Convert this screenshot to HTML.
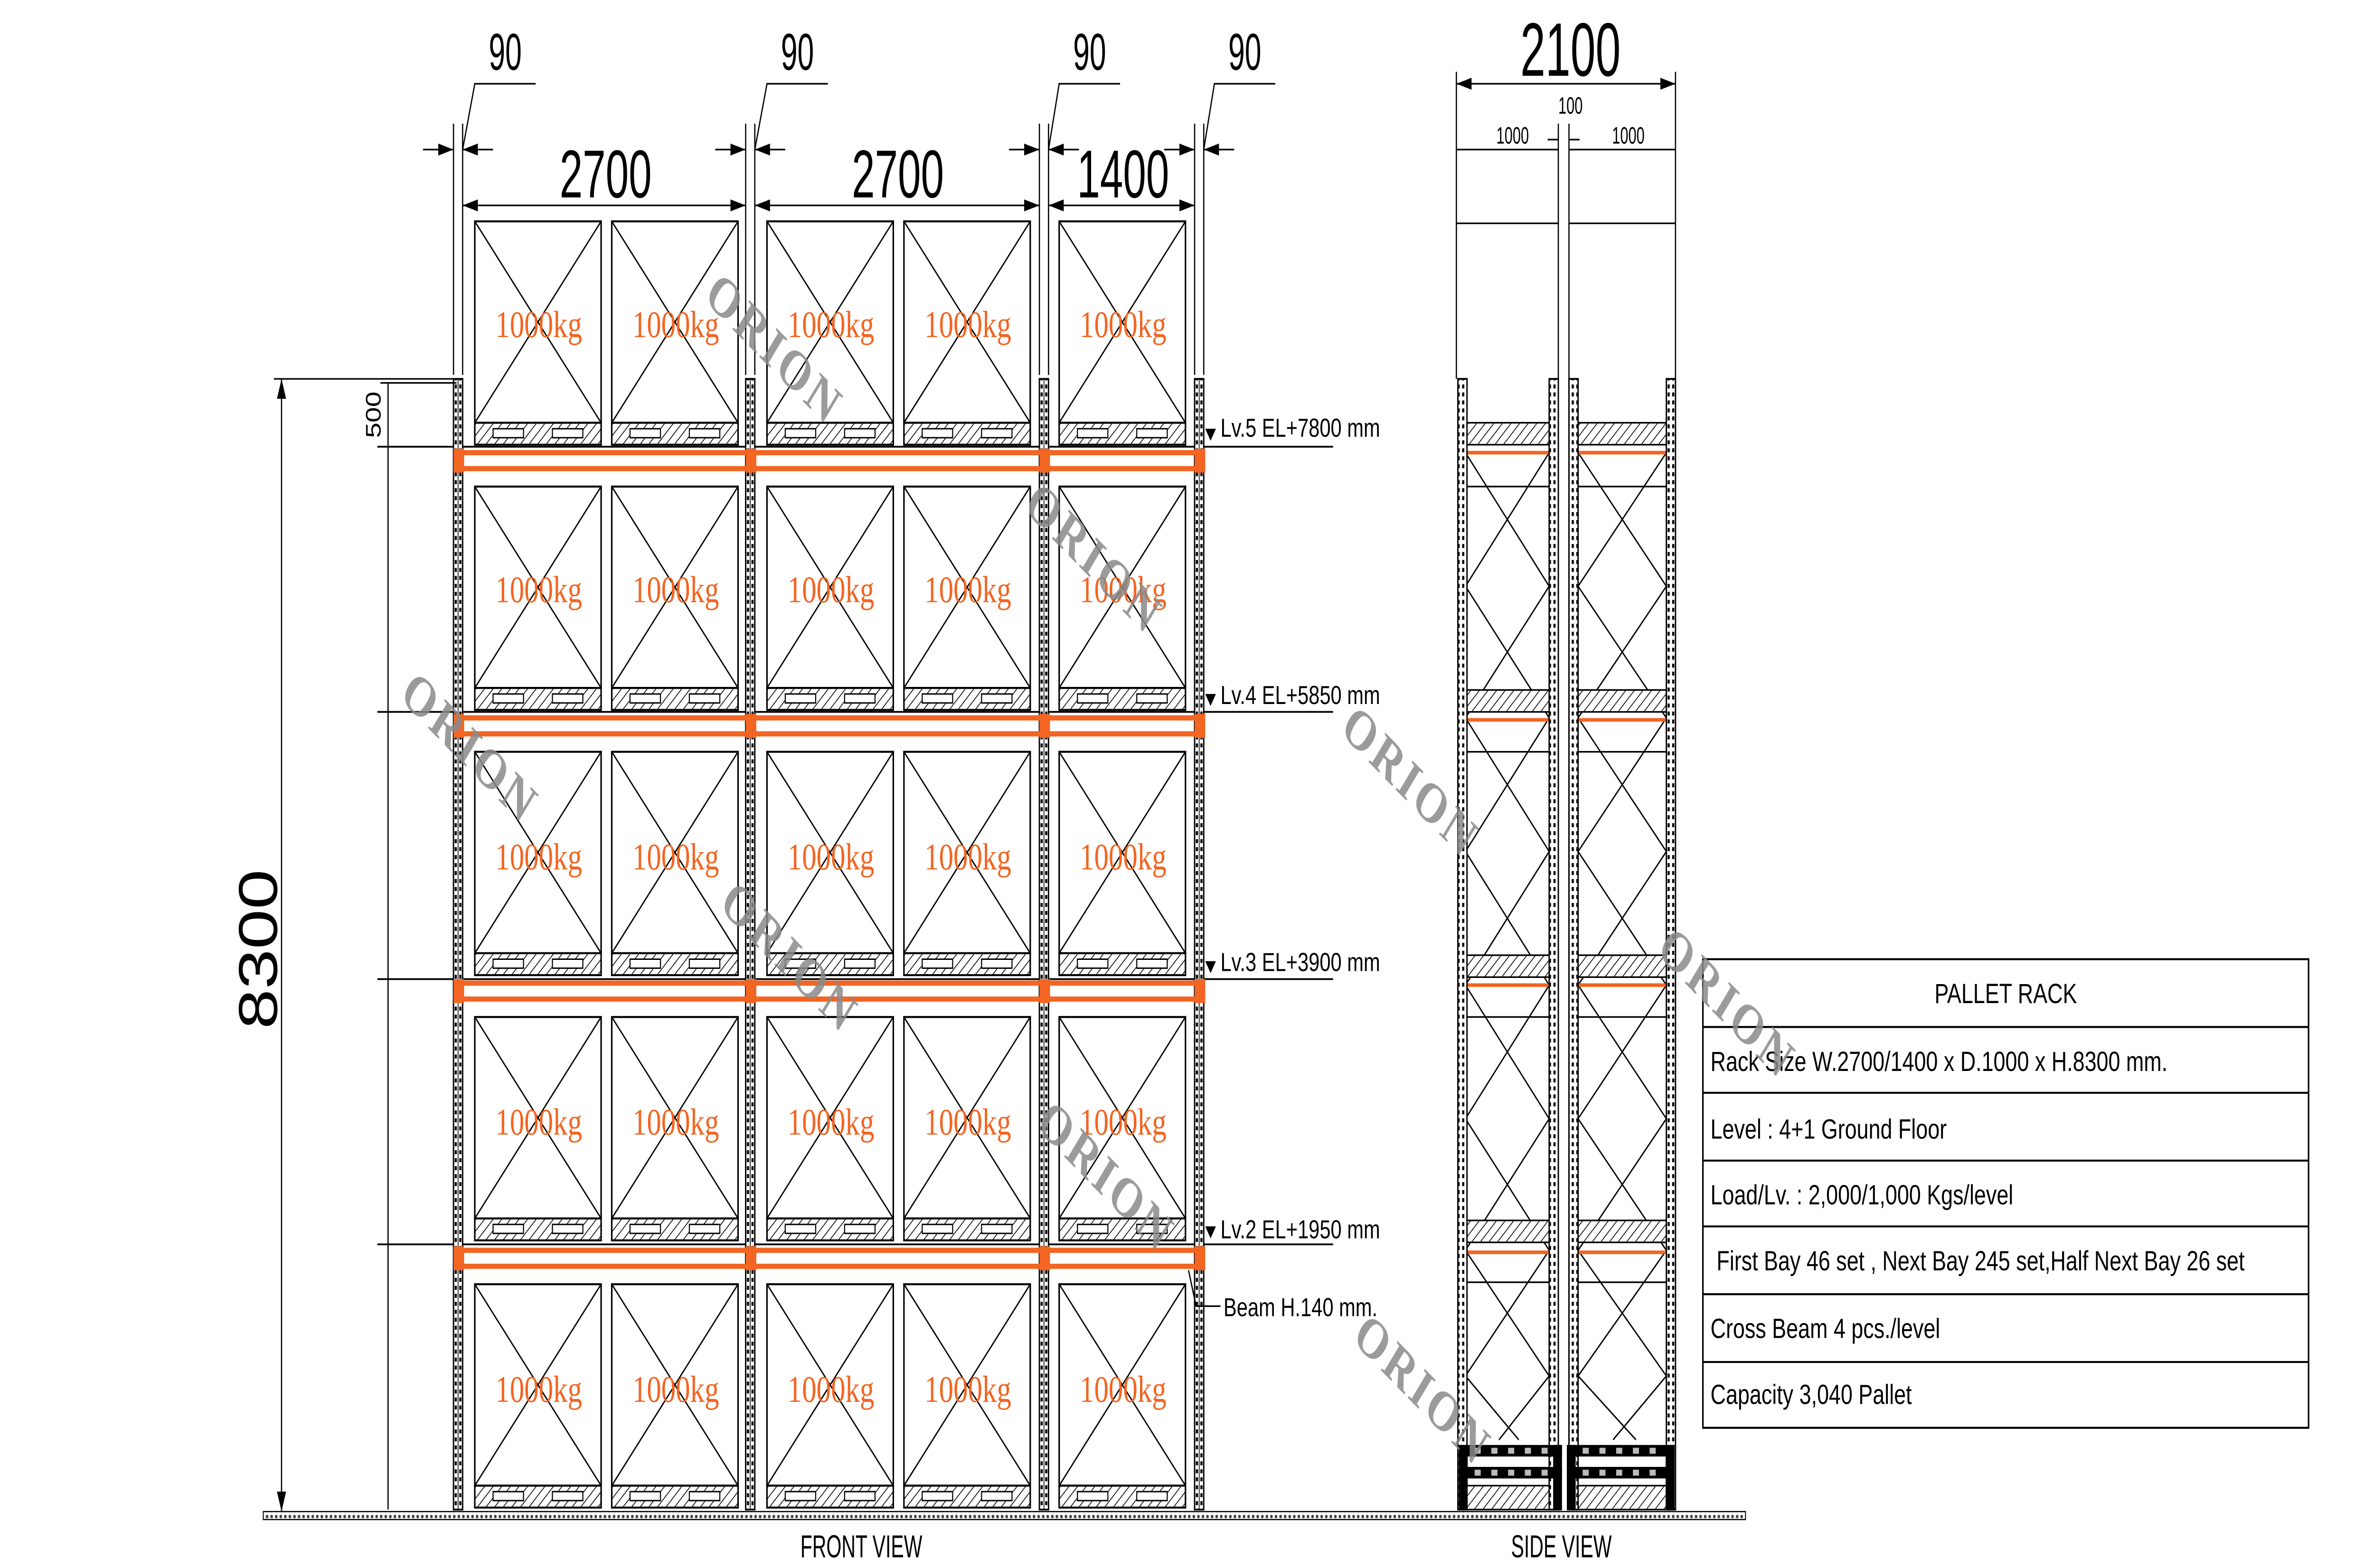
<!DOCTYPE html>
<html><head><meta charset="utf-8"><style>
html,body{margin:0;padding:0;background:#fff;width:100%;height:100%;overflow:hidden}
#s{display:block;position:absolute;left:0;top:0;width:100vw;height:100vh}
</style></head><body>
<svg id="s" xmlns="http://www.w3.org/2000/svg" viewBox="0 0 1560 786.3" preserveAspectRatio="none" font-family="Liberation Sans, sans-serif">
<defs>
<pattern id="hatch" width="4" height="4" patternUnits="userSpaceOnUse" patternTransform="rotate(45)">
<rect width="4" height="4" fill="#fff"/><line x1="0" y1="0" x2="0" y2="4" stroke="#000" stroke-width="0.9"/>
</pattern>
<pattern id="holes" width="6" height="4" patternUnits="userSpaceOnUse">
<rect width="6" height="4" fill="#fff"/><rect x="0.8" y="0.8" width="1.4" height="2" fill="#000"/><rect x="3.8" y="0.8" width="1.4" height="2" fill="#000"/>
</pattern>
<pattern id="ground" width="3" height="3" patternUnits="userSpaceOnUse">
<rect width="3" height="3" fill="#fff"/><circle cx="1.5" cy="1.5" r="0.9" fill="#444"/>
</pattern>
<marker id="ar" viewBox="0 0 10 6" refX="10" refY="3" markerWidth="10" markerHeight="6" markerUnits="userSpaceOnUse" orient="auto-start-reverse">
<path d="M0,0 L10,3 L0,6 z" fill="#000"/></marker>
<g id="pal">
<rect x="0" y="0" width="83" height="101" fill="none" stroke="#000" stroke-width="1"/>
<line x1="0" y1="0" x2="83" y2="101" stroke="#000" stroke-width="0.8"/>
<line x1="83" y1="0" x2="0" y2="101" stroke="#000" stroke-width="0.8"/>
<rect x="0" y="101" width="83" height="11" fill="url(#hatch)" stroke="#000" stroke-width="1"/>
<rect x="12" y="104" width="20" height="4.5" fill="#fff" stroke="#000" stroke-width="0.7"/>
<rect x="51" y="104" width="20" height="4.5" fill="#fff" stroke="#000" stroke-width="0.7"/>
</g>
<g id="up">
<rect x="-3" y="190" width="6" height="567" fill="url(#holes)" stroke="#000" stroke-width="0.9"/>
<line x1="0" y1="190" x2="0" y2="757" stroke="#000" stroke-width="0.5"/>
</g>
</defs>

<rect width="1560" height="786.3" fill="#fff"/>

<rect x="173" y="758" width="974" height="4" fill="url(#ground)" stroke="#000" stroke-width="0.6"/>

<g>
<use href="#pal" x="312" y="111"/><use href="#pal" x="402" y="111"/><use href="#pal" x="504" y="111"/><use href="#pal" x="594" y="111"/><use href="#pal" x="696" y="111"/>
<use href="#pal" x="312" y="244"/><use href="#pal" x="402" y="244"/><use href="#pal" x="504" y="244"/><use href="#pal" x="594" y="244"/><use href="#pal" x="696" y="244"/>
<use href="#pal" x="312" y="377"/><use href="#pal" x="402" y="377"/><use href="#pal" x="504" y="377"/><use href="#pal" x="594" y="377"/><use href="#pal" x="696" y="377"/>
<use href="#pal" x="312" y="510"/><use href="#pal" x="402" y="510"/><use href="#pal" x="504" y="510"/><use href="#pal" x="594" y="510"/><use href="#pal" x="696" y="510"/>
<use href="#pal" x="312" y="644"/><use href="#pal" x="402" y="644"/><use href="#pal" x="504" y="644"/><use href="#pal" x="594" y="644"/><use href="#pal" x="696" y="644"/>
</g>

<g stroke="#000" stroke-width="0.9">
<line x1="248" y1="224" x2="876" y2="224"/>
<line x1="248" y1="357" x2="876" y2="357"/>
<line x1="248" y1="491" x2="876" y2="491"/>
<line x1="248" y1="624" x2="876" y2="624"/>
</g>

<use href="#up" x="301"/><use href="#up" x="493"/><use href="#up" x="686"/><use href="#up" x="788"/>

<g stroke="#f26522" stroke-width="2.6" fill="none">
<line x1="301" y1="227" x2="788" y2="227"/><line x1="301" y1="235" x2="788" y2="235"/>
<line x1="301" y1="360" x2="788" y2="360"/><line x1="301" y1="368" x2="788" y2="368"/>
<line x1="301" y1="493" x2="788" y2="493"/><line x1="301" y1="501" x2="788" y2="501"/>
<line x1="301" y1="627" x2="788" y2="627"/><line x1="301" y1="635" x2="788" y2="635"/>
</g>
<g fill="#f26522">
<rect x="298" y="225" width="7" height="12"/><rect x="490" y="225" width="7" height="12"/><rect x="683" y="225" width="7" height="12"/><rect x="785" y="225" width="7" height="12"/>
<rect x="298" y="358" width="7" height="12"/><rect x="490" y="358" width="7" height="12"/><rect x="683" y="358" width="7" height="12"/><rect x="785" y="358" width="7" height="12"/>
<rect x="298" y="491" width="7" height="12"/><rect x="490" y="491" width="7" height="12"/><rect x="683" y="491" width="7" height="12"/><rect x="785" y="491" width="7" height="12"/>
<rect x="298" y="625" width="7" height="12"/><rect x="490" y="625" width="7" height="12"/><rect x="683" y="625" width="7" height="12"/><rect x="785" y="625" width="7" height="12"/>
</g>

<g font-family="Liberation Serif, serif" font-size="19" fill="#f26522" text-anchor="middle">
<text x="354" y="169">1000kg</text><text x="444" y="169">1000kg</text><text x="546" y="169">1000kg</text><text x="636" y="169">1000kg</text><text x="738" y="169">1000kg</text>
<text x="354" y="302">1000kg</text><text x="444" y="302">1000kg</text><text x="546" y="302">1000kg</text><text x="636" y="302">1000kg</text><text x="738" y="302">1000kg</text>
<text x="354" y="436">1000kg</text><text x="444" y="436">1000kg</text><text x="546" y="436">1000kg</text><text x="636" y="436">1000kg</text><text x="738" y="436">1000kg</text>
<text x="354" y="569">1000kg</text><text x="444" y="569">1000kg</text><text x="546" y="569">1000kg</text><text x="636" y="569">1000kg</text><text x="738" y="569">1000kg</text>
<text x="354" y="703">1000kg</text><text x="444" y="703">1000kg</text><text x="546" y="703">1000kg</text><text x="636" y="703">1000kg</text><text x="738" y="703">1000kg</text>
</g>

<g font-size="13" fill="#000">
<text x="802" y="219">Lv.5 EL+7800 mm</text>
<text x="802" y="353">Lv.4 EL+5850 mm</text>
<text x="802" y="487">Lv.3 EL+3900 mm</text>
<text x="802" y="621">Lv.2 EL+1950 mm</text>
<text x="804" y="660">Beam H.140 mm.</text>
</g>
<g fill="#000">
<path d="M792,215 h7 l-3.5,6z"/><path d="M792,348 h7 l-3.5,6z"/><path d="M792,482 h7 l-3.5,6z"/><path d="M792,615 h7 l-3.5,6z"/>
</g>
<polyline points="781,637 786,655 802,655" fill="none" stroke="#000" stroke-width="0.8"/>

<g stroke="#000" stroke-width="0.8" fill="none">
<line x1="298" y1="62" x2="298" y2="188"/><line x1="304" y1="62" x2="304" y2="188"/>
<line x1="490" y1="62" x2="490" y2="188"/><line x1="496" y1="62" x2="496" y2="188"/>
<line x1="683" y1="62" x2="683" y2="188"/><line x1="689" y1="62" x2="689" y2="188"/>
<line x1="785" y1="62" x2="785" y2="188"/><line x1="791" y1="62" x2="791" y2="188"/>
<polyline points="352,42 312,42 304,75"/>
<polyline points="544,42 504,42 496,75"/>
<polyline points="736,42 696,42 689,75"/>
<polyline points="838,42 798,42 791,75"/>
<line x1="278" y1="75" x2="298" y2="75" marker-end="url(#ar)"/><line x1="324" y1="75" x2="304" y2="75" marker-end="url(#ar)"/>
<line x1="470" y1="75" x2="490" y2="75" marker-end="url(#ar)"/><line x1="516" y1="75" x2="496" y2="75" marker-end="url(#ar)"/>
<line x1="663" y1="75" x2="683" y2="75" marker-end="url(#ar)"/><line x1="709" y1="75" x2="689" y2="75" marker-end="url(#ar)"/>
<line x1="765" y1="75" x2="785" y2="75" marker-end="url(#ar)"/><line x1="811" y1="75" x2="791" y2="75" marker-end="url(#ar)"/>
<line x1="304" y1="103" x2="490" y2="103" marker-start="url(#ar)" marker-end="url(#ar)"/>
<line x1="496" y1="103" x2="683" y2="103" marker-start="url(#ar)" marker-end="url(#ar)"/>
<line x1="689" y1="103" x2="785" y2="103" marker-start="url(#ar)" marker-end="url(#ar)"/>
<line x1="180" y1="190" x2="300" y2="190"/>
<line x1="185" y1="190" x2="185" y2="758" marker-start="url(#ar)" marker-end="url(#ar)"/>
<line x1="255" y1="192" x2="255" y2="757"/>
<line x1="250" y1="192" x2="300" y2="192"/>
</g>
<g fill="#000" text-anchor="middle">
<text x="332" y="35" font-size="26" transform="translate(332 35) scale(0.75 1) translate(-332 -35)">90</text>
<text x="524" y="35" font-size="26" transform="translate(524 35) scale(0.75 1) translate(-524 -35)">90</text>
<text x="716" y="35" font-size="26" transform="translate(716 35) scale(0.75 1) translate(-716 -35)">90</text>
<text x="818" y="35" font-size="26" transform="translate(818 35) scale(0.75 1) translate(-818 -35)">90</text>
<text x="398" y="99" font-size="34" transform="translate(398 99) scale(0.8 1) translate(-398 -99)">2700</text>
<text x="590" y="99" font-size="34" transform="translate(590 99) scale(0.8 1) translate(-590 -99)">2700</text>
<text x="738" y="99" font-size="34" transform="translate(738 99) scale(0.8 1) translate(-738 -99)">1400</text>
<text x="0" y="0" font-size="36" transform="translate(182 476) rotate(-90)">8300</text>
<text x="0" y="0" font-size="14" transform="translate(250 208) rotate(-90)">500</text>
<text x="566" y="781" font-size="16" transform="translate(566 781) scale(0.8 1) translate(-566 -781)">FRONT VIEW</text>
<text x="1026" y="781" font-size="16" transform="translate(1026 781) scale(0.8 1) translate(-1026 -781)">SIDE VIEW</text>
</g>

<g stroke="#000" stroke-width="0.8" fill="none">
<line x1="957" y1="36" x2="957" y2="190"/><line x1="1101" y1="36" x2="1101" y2="190"/>
<line x1="957" y1="42" x2="1101" y2="42" marker-start="url(#ar)" marker-end="url(#ar)"/>
<line x1="957" y1="75" x2="1024" y2="75"/><line x1="1031" y1="75" x2="1101" y2="75"/>
<line x1="1017" y1="70" x2="1024" y2="70"/><line x1="1031" y1="70" x2="1038" y2="70"/>
<line x1="1024" y1="62" x2="1024" y2="757"/><line x1="1031" y1="62" x2="1031" y2="757"/>
<line x1="957" y1="112" x2="1024" y2="112"/><line x1="1031" y1="112" x2="1101" y2="112"/>
</g>
<g fill="#000" text-anchor="middle">
<text x="1032" y="38" font-size="38" transform="translate(1032 38) scale(0.78 1) translate(-1032 -38)">2100</text>
<text x="1032" y="57" font-size="12" transform="translate(1032 57) scale(0.8 1) translate(-1032 -57)">100</text>
<text x="994" y="72" font-size="12" transform="translate(994 72) scale(0.8 1) translate(-994 -72)">1000</text>
<text x="1070" y="72" font-size="12" transform="translate(1070 72) scale(0.8 1) translate(-1070 -72)">1000</text>
</g>

<g stroke="#000" stroke-width="0.8" fill="none">
<line x1="963" y1="244" x2="1018" y2="244"/><line x1="1037" y1="244" x2="1095" y2="244"/>
<line x1="963" y1="377" x2="1018" y2="377"/><line x1="1037" y1="377" x2="1095" y2="377"/>
<line x1="963" y1="510" x2="1018" y2="510"/><line x1="1037" y1="510" x2="1095" y2="510"/>
<line x1="963" y1="643" x2="1018" y2="643"/><line x1="1037" y1="643" x2="1095" y2="643"/>
<path d="M963,227 L1018,294 L963,360 M1018,227 L963,294 L1018,360"/>
<path d="M963,360 L1018,427 L963,494 M1018,360 L963,427 L1018,494"/>
<path d="M963,494 L1018,561 L963,627 M1018,494 L963,561 L1018,627"/>
<path d="M963,627 L1018,690 L985,722 M1018,627 L963,690 L998,722"/>
<path d="M1037,227 L1095,294 L1037,360 M1095,227 L1037,294 L1095,360"/>
<path d="M1037,360 L1095,427 L1037,494 M1095,360 L1037,427 L1095,494"/>
<path d="M1037,494 L1095,561 L1037,627 M1095,494 L1037,561 L1095,627"/>
<path d="M1037,627 L1095,690 L1060,722 M1095,627 L1037,690 L1075,722"/>
</g>
<g fill="url(#hatch)" stroke="#000" stroke-width="0.8">
<rect x="963" y="212" width="55" height="11"/><rect x="1037" y="212" width="58" height="11"/>
<rect x="963" y="346" width="55" height="11"/><rect x="1037" y="346" width="58" height="11"/>
<rect x="963" y="479" width="55" height="11"/><rect x="1037" y="479" width="58" height="11"/>
<rect x="963" y="612" width="55" height="11"/><rect x="1037" y="612" width="58" height="11"/>
<rect x="963" y="745" width="55" height="12"/><rect x="1037" y="745" width="58" height="12"/>
</g>
<g stroke="#f26522" stroke-width="1.8">
<line x1="963" y1="227" x2="1018" y2="227"/><line x1="1037" y1="227" x2="1095" y2="227"/>
<line x1="963" y1="361" x2="1018" y2="361"/><line x1="1037" y1="361" x2="1095" y2="361"/>
<line x1="963" y1="494" x2="1018" y2="494"/><line x1="1037" y1="494" x2="1095" y2="494"/>
<line x1="963" y1="628" x2="1018" y2="628"/><line x1="1037" y1="628" x2="1095" y2="628"/>
</g>
<g>
<rect x="958" y="190" width="6" height="567" fill="url(#holes)" stroke="#000" stroke-width="0.9"/>
<rect x="1018" y="190" width="6" height="567" fill="url(#holes)" stroke="#000" stroke-width="0.9"/>
<rect x="1031" y="190" width="6" height="567" fill="url(#holes)" stroke="#000" stroke-width="0.9"/>
<rect x="1095" y="190" width="6" height="567" fill="url(#holes)" stroke="#000" stroke-width="0.9"/>
</g>
<g stroke="#000" stroke-width="0.8">
<rect x="959" y="725" width="67" height="5" fill="#000"/>
<rect x="959" y="736" width="67" height="5" fill="#000"/>
<rect x="1030" y="725" width="70" height="5" fill="#000"/>
<rect x="1030" y="736" width="70" height="5" fill="#000"/>
<rect x="959" y="725" width="5" height="32" fill="#000"/><rect x="1021" y="725" width="5" height="32" fill="#000"/>
<rect x="1030" y="725" width="5" height="32" fill="#000"/><rect x="1095" y="725" width="5" height="32" fill="#000"/>
</g>
<g fill="#bbb">
<rect x="969" y="726" width="4" height="3"/><rect x="980" y="726" width="4" height="3"/><rect x="991" y="726" width="4" height="3"/><rect x="1002" y="726" width="4" height="3"/><rect x="1013" y="726" width="4" height="3"/>
<rect x="969" y="737" width="4" height="3"/><rect x="980" y="737" width="4" height="3"/><rect x="991" y="737" width="4" height="3"/><rect x="1002" y="737" width="4" height="3"/><rect x="1013" y="737" width="4" height="3"/>
<rect x="1040" y="726" width="4" height="3"/><rect x="1051" y="726" width="4" height="3"/><rect x="1062" y="726" width="4" height="3"/><rect x="1073" y="726" width="4" height="3"/><rect x="1084" y="726" width="4" height="3"/>
<rect x="1040" y="737" width="4" height="3"/><rect x="1051" y="737" width="4" height="3"/><rect x="1062" y="737" width="4" height="3"/><rect x="1073" y="737" width="4" height="3"/><rect x="1084" y="737" width="4" height="3"/>
</g>

<g stroke="#000" stroke-width="1" fill="none">
<rect x="1119" y="481" width="398" height="235"/>
<line x1="1119" y1="515" x2="1517" y2="515"/>
<line x1="1119" y1="548" x2="1517" y2="548"/>
<line x1="1119" y1="582" x2="1517" y2="582"/>
<line x1="1119" y1="615" x2="1517" y2="615"/>
<line x1="1119" y1="649" x2="1517" y2="649"/>
<line x1="1119" y1="683" x2="1517" y2="683"/>
</g>
<g font-size="14" fill="#000">
<text x="1318" y="503" text-anchor="middle">PALLET RACK</text>
<text x="1124" y="537">Rack Size  W.2700/1400 x D.1000 x H.8300 mm.</text>
<text x="1124" y="571">Level : 4+1 Ground Floor</text>
<text x="1124" y="604">Load/Lv. : 2,000/1,000 Kgs/level</text>
<text x="1128" y="637">First Bay 46 set , Next Bay 245 set,Half Next Bay 26 set</text>
<text x="1124" y="671">Cross Beam  4  pcs./level</text>
<text x="1124" y="704">Capacity  3,040 Pallet</text>
</g>

<g font-family="Liberation Serif, serif" font-weight="bold" font-size="28" fill="#8a8a8a" fill-opacity="0.85" letter-spacing="2">
<text x="0" y="0" transform="translate(462 150) rotate(38)">ORION</text>
<text x="0" y="0" transform="translate(672 255) rotate(38)">ORION</text>
<text x="0" y="0" transform="translate(262 350) rotate(38)">ORION</text>
<text x="0" y="0" transform="translate(880 367) rotate(38)">ORION</text>
<text x="0" y="0" transform="translate(472 455) rotate(38)">ORION</text>
<text x="0" y="0" transform="translate(680 565) rotate(38)">ORION</text>
<text x="0" y="0" transform="translate(1088 478) rotate(38)">ORION</text>
<text x="0" y="0" transform="translate(888 672) rotate(38)">ORION</text>
</g>
</svg>
</body></html>
